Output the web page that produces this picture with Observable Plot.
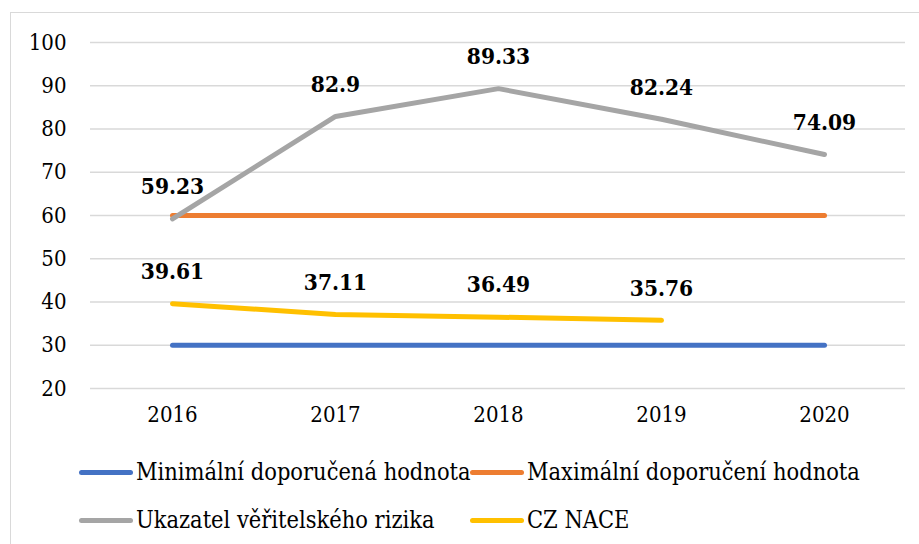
<!DOCTYPE html>
<html><head><meta charset="utf-8">
<script src="https://cdn.jsdelivr.net/npm/d3@7"></script>
<script src="https://cdn.jsdelivr.net/npm/@observablehq/plot@0.6"></script>
<style>
html,body{margin:0;padding:0;overflow:hidden;background:#fff;}
body{width:919px;height:544px;position:relative;}
#frame{position:absolute;left:10px;top:12px;width:1000px;height:1000px;border:1.5px solid #d9d9d9;}
#chart{position:absolute;left:0;top:0;}
#chart svg text{font-stretch:condensed;}
.lg{position:absolute;display:flex;align-items:center;height:30px;font-size:23.4px;color:#000;white-space:nowrap;font-family:"DejaVu Serif Condensed","DejaVu Serif",serif;font-stretch:condensed;}
.lg .sw{width:54px;height:5px;border-radius:3px;margin-right:3px;}
</style></head><body>
<div id="frame"></div>
<div id="chart"></div>
<div id="legend"></div>
<script>
const years = ["2016", "2017", "2018", "2019", "2020"];
const minimalni = [30, 30, 30, 30, 30];
const maximalni = [60, 60, 60, 60, 60];
const ukazatel = [59.23, 82.9, 89.33, 82.24, 74.09];
const czNace = [39.61, 37.11, 36.49, 35.76, null];
const seriesNames = ["Minimální doporučená hodnota", "Maximální doporučení hodnota", "Ukazatel věřitelského rizika", "CZ NACE"];
const seriesColors = ["#4472C4", "#ED7D31", "#A5A5A5", "#FFC000"];
const yTicks = [20, 30, 40, 50, 60, 70, 80, 90, 100];
const labelled = [false, false, true, true];

const allSeries = [minimalni, maximalni, ukazatel, czNace];
const rows = [];
allSeries.forEach((vals, si) => {
  vals.forEach((v, i) => {
    if (v != null) rows.push({series: seriesNames[si], year: years[i], value: v, label: labelled[si]});
  });
});

const serif = "'DejaVu Serif Condensed','DejaVu Serif',serif";
const marks = [
  Plot.ruleY(yTicks, {stroke: "#d9d9d9", strokeWidth: 1.5}),
  Plot.axisY({ticks: yTicks, tickSize: 0, tickPadding: 24, fontSize: 22, label: null, fill: "#000", fontFamily: serif}),
  Plot.axisX({tickSize: 0, tickPadding: 18, fontSize: 22, label: null, fill: "#000", fontFamily: serif})
];
seriesNames.forEach((name, si) => {
  marks.push(Plot.line(rows.filter(d => d.series === name), {
    x: "year", y: "value", stroke: seriesColors[si], strokeWidth: 5, strokeLinecap: "round", strokeLinejoin: "round"
  }));
});
marks.push(Plot.text(rows.filter(d => d.label), {
  x: "year", y: "value", text: d => String(d.value), dy: -32, fontSize: 22.5, fontWeight: "bold", fill: "#000", fontFamily: serif
}));

const chart = Plot.plot({
  width: 919,
  height: 440,
  marginLeft: 90,
  marginRight: 14,
  marginTop: 42,
  marginBottom: 52,
  style: {fontFamily: serif, background: "transparent", overflow: "visible"},
  x: {type: "point", domain: years, padding: 0.5},
  y: {domain: [20, 100]},
  marks
});
document.getElementById("chart").appendChild(chart);

const legendPos = [[79, 457], [470, 457], [79, 505], [470, 505]];
const legend = document.getElementById("legend");
seriesNames.forEach((name, si) => {
  const item = document.createElement("div");
  item.className = "lg";
  item.style.left = legendPos[si][0] + "px";
  item.style.top = legendPos[si][1] + "px";
  const sw = document.createElement("span");
  sw.className = "sw";
  sw.style.background = seriesColors[si];
  const tx = document.createElement("span");
  tx.textContent = name;
  item.appendChild(sw);
  item.appendChild(tx);
  legend.appendChild(item);
});
</script>
</body></html>
